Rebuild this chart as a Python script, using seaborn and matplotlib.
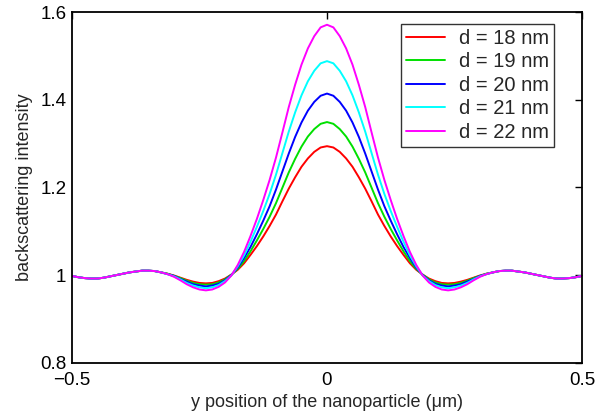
import matplotlib
matplotlib.use("Agg")
import matplotlib.pyplot as plt
import seaborn as sns
import pandas as pd

# y position of the nanoparticle (um)
y_pos = [-0.5, -0.4875, -0.475, -0.4625, -0.45, -0.4375, -0.425, -0.4125, -0.4, -0.3875,
         -0.375, -0.3625, -0.35, -0.3375, -0.325, -0.3125, -0.3, -0.2875, -0.275, -0.2625,
         -0.25, -0.2375, -0.225, -0.2125, -0.2, -0.1875, -0.175, -0.1625, -0.15, -0.1375,
         -0.125, -0.1125, -0.1, -0.0875, -0.075, -0.0625, -0.05, -0.0375, -0.025, -0.0125,
         0.0,
         0.0125, 0.025, 0.0375, 0.05, 0.0625, 0.075, 0.0875, 0.1, 0.1125, 0.125,
         0.1375, 0.15, 0.1625, 0.175, 0.1875, 0.2, 0.2125, 0.225, 0.2375, 0.25,
         0.2625, 0.275, 0.2875, 0.3, 0.3125, 0.325, 0.3375, 0.35, 0.3625, 0.375,
         0.3875, 0.4, 0.4125, 0.425, 0.4375, 0.45, 0.4625, 0.475, 0.4875, 0.5]

d18 = [0.998, 0.995, 0.993, 0.992, 0.992, 0.994, 0.997, 1.000, 1.003, 1.006,
       1.008, 1.010, 1.010, 1.009, 1.006, 1.003, 0.999, 0.994, 0.989, 0.985,
       0.982, 0.981, 0.982, 0.986, 0.992, 1.001, 1.012, 1.027, 1.046, 1.066,
       1.088, 1.112, 1.138, 1.168, 1.197, 1.223, 1.247, 1.266, 1.281, 1.291,
       1.294,
       1.291, 1.281, 1.266, 1.247, 1.223, 1.197, 1.168, 1.138, 1.112, 1.088,
       1.066, 1.046, 1.027, 1.012, 1.001, 0.992, 0.986, 0.982, 0.981, 0.982,
       0.985, 0.989, 0.994, 0.999, 1.003, 1.006, 1.009, 1.010, 1.010, 1.008,
       1.006, 1.003, 1.000, 0.997, 0.994, 0.992, 0.992, 0.993, 0.995, 0.998]
d19 = [0.998, 0.995, 0.993, 0.992, 0.992, 0.994, 0.997, 1.000, 1.003, 1.006,
       1.008, 1.010, 1.010, 1.009, 1.006, 1.003, 0.998, 0.993, 0.987, 0.982,
       0.979, 0.978, 0.979, 0.983, 0.990, 1.001, 1.014, 1.032, 1.054, 1.079,
       1.105, 1.133, 1.164, 1.199, 1.234, 1.265, 1.293, 1.316, 1.333, 1.345,
       1.349,
       1.345, 1.333, 1.316, 1.293, 1.265, 1.234, 1.199, 1.164, 1.133, 1.105,
       1.079, 1.054, 1.032, 1.014, 1.001, 0.990, 0.983, 0.979, 0.978, 0.979,
       0.982, 0.987, 0.993, 0.998, 1.003, 1.006, 1.009, 1.010, 1.010, 1.008,
       1.006, 1.003, 1.000, 0.997, 0.994, 0.992, 0.992, 0.993, 0.995, 0.998]
d20 = [0.998, 0.995, 0.993, 0.992, 0.992, 0.994, 0.997, 1.000, 1.003, 1.006,
       1.008, 1.010, 1.010, 1.009, 1.006, 1.002, 0.998, 0.991, 0.985, 0.979,
       0.976, 0.974, 0.976, 0.980, 0.988, 1.000, 1.017, 1.039, 1.064, 1.093,
       1.124, 1.157, 1.195, 1.236, 1.277, 1.315, 1.348, 1.375, 1.395, 1.409,
       1.414,
       1.409, 1.395, 1.375, 1.348, 1.315, 1.277, 1.236, 1.195, 1.157, 1.124,
       1.093, 1.064, 1.039, 1.017, 1.000, 0.988, 0.980, 0.976, 0.974, 0.976,
       0.979, 0.985, 0.991, 0.998, 1.002, 1.006, 1.009, 1.010, 1.010, 1.008,
       1.006, 1.003, 1.000, 0.997, 0.994, 0.992, 0.992, 0.993, 0.995, 0.998]
d21 = [0.998, 0.995, 0.993, 0.992, 0.992, 0.994, 0.997, 1.000, 1.003, 1.006,
       1.008, 1.010, 1.010, 1.009, 1.006, 1.002, 0.997, 0.990, 0.982, 0.976,
       0.972, 0.970, 0.972, 0.977, 0.986, 0.999, 1.020, 1.045, 1.076, 1.110,
       1.146, 1.185, 1.229, 1.278, 1.327, 1.371, 1.410, 1.442, 1.466, 1.483,
       1.488,
       1.483, 1.466, 1.442, 1.410, 1.371, 1.327, 1.278, 1.229, 1.185, 1.146,
       1.110, 1.076, 1.045, 1.020, 0.999, 0.986, 0.977, 0.972, 0.970, 0.972,
       0.976, 0.982, 0.990, 0.997, 1.002, 1.006, 1.009, 1.010, 1.010, 1.008,
       1.006, 1.003, 1.000, 0.997, 0.994, 0.992, 0.992, 0.993, 0.995, 0.998]
d22 = [0.998, 0.995, 0.993, 0.992, 0.992, 0.994, 0.997, 1.000, 1.003, 1.006,
       1.008, 1.010, 1.010, 1.009, 1.006, 1.002, 0.996, 0.988, 0.979, 0.972,
       0.967, 0.965, 0.967, 0.973, 0.983, 0.999, 1.023, 1.053, 1.089, 1.128,
       1.171, 1.217, 1.268, 1.325, 1.383, 1.434, 1.480, 1.517, 1.545, 1.565,
       1.571,
       1.565, 1.545, 1.517, 1.480, 1.434, 1.383, 1.325, 1.268, 1.217, 1.171,
       1.128, 1.089, 1.053, 1.023, 0.999, 0.983, 0.973, 0.967, 0.965, 0.967,
       0.972, 0.979, 0.988, 0.996, 1.002, 1.006, 1.009, 1.010, 1.010, 1.008,
       1.006, 1.003, 1.000, 0.997, 0.994, 0.992, 0.992, 0.993, 0.995, 0.998]

series_labels = ["d = 18 nm", "d = 19 nm", "d = 20 nm", "d = 21 nm", "d = 22 nm"]
series_values = [d18, d19, d20, d21, d22]
colors = ["#ff0000", "#00e000", "#0000ff", "#00ffff", "#ff00ff"]

xticks = [-0.5, 0, 0.5]
xtick_labels = ["\u22120.5", "0", "0.5"]
yticks = [0.8, 1.0, 1.2, 1.4, 1.6]
ytick_labels = ["0.8", "1", "1.2", "1.4", "1.6"]

rows = []
for lab, vals in zip(series_labels, series_values):
    for x, v in zip(y_pos, vals):
        rows.append({"x": x, "y": v, "d": lab})
df = pd.DataFrame(rows)

sns.set_style("white")
plt.rcParams["font.family"] = ["Liberation Sans", "DejaVu Sans"]

fig = plt.figure(figsize=(5.96, 4.15), dpi=100)
ax = fig.add_axes([0.1208, 0.126, 0.8557, 0.845])

sns.lineplot(data=df, x="x", y="y", hue="d", palette=colors, ax=ax,
             linewidth=1.4, legend=True)

ax.set_xlim(-0.5, 0.5)
ax.set_ylim(0.8, 1.6)
ax.set_xticks(xticks)
ax.set_xticklabels(xtick_labels)
ax.set_yticks(yticks)
ax.set_yticklabels(ytick_labels)
ax.tick_params(direction="in", length=5, width=1.0, top=True, right=True,
               labelsize=13.5, colors="black")
ax.tick_params(axis="x", pad=7)
ax.tick_params(axis="y", pad=4)
for s in ax.spines.values():
    s.set_color("black")
    s.set_linewidth(1.3)

ax.set_xlabel("y position of the nanoparticle (\u03bcm)", fontsize=13, labelpad=3)
ax.set_ylabel("backscattering intensity", fontsize=13, labelpad=5)

leg = ax.legend(loc="upper right", bbox_to_anchor=(0.945, 0.966), borderaxespad=0,
                fontsize=14.5, handlelength=1.9, frameon=True, fancybox=False,
                edgecolor="black", labelspacing=0.22, borderpad=0.25,
                handletextpad=0.7)
leg.get_frame().set_linewidth(1.0)
for line in leg.get_lines():
    line.set_linewidth(1.4)

fig.savefig("out.png", dpi=100)
